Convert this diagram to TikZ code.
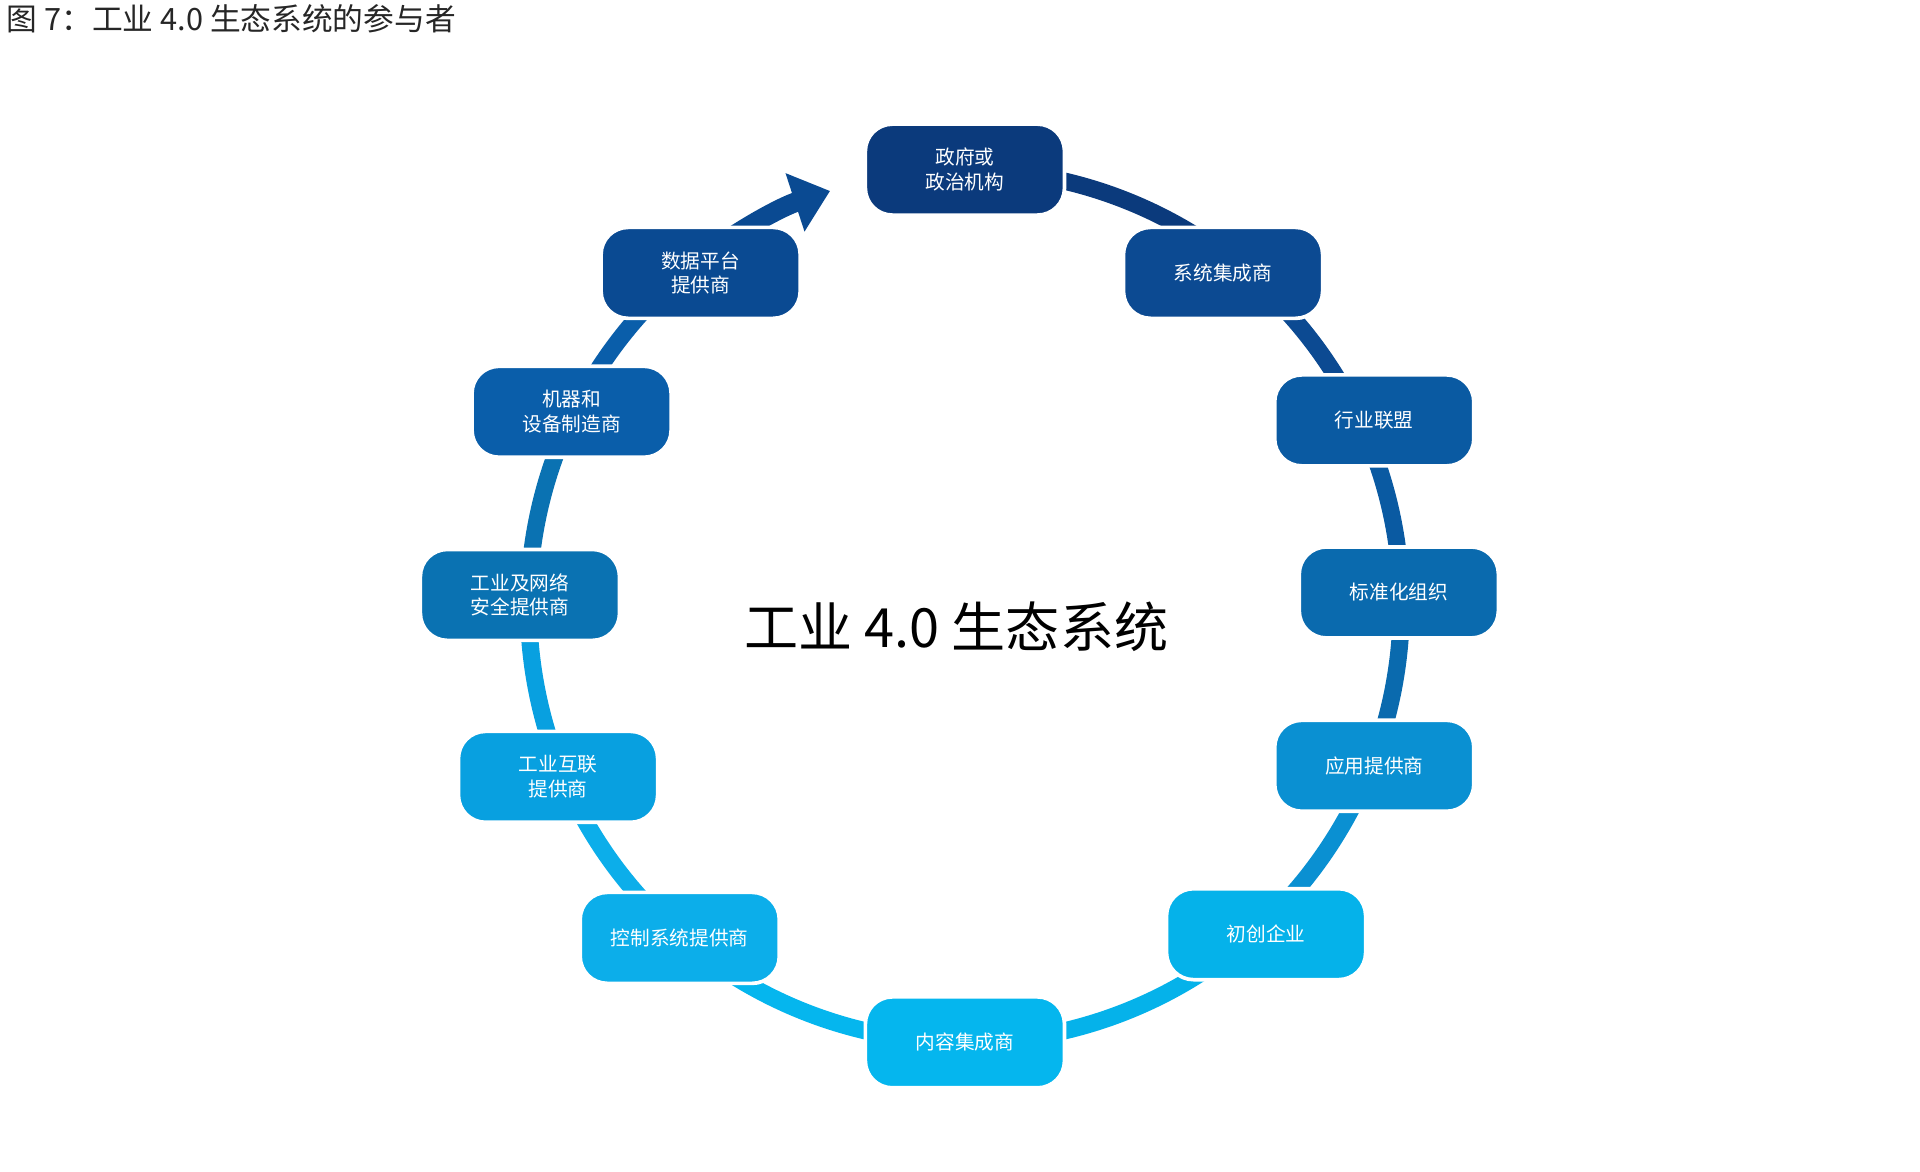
\documentclass[tikz,border=0pt]{standalone}
\usepackage{fontspec}
\setmainfont{Noto Sans CJK SC}
\usetikzlibrary{arrows.meta}
\definecolor{cA}{HTML}{0B3A7C}
\definecolor{cB}{HTML}{0C4A92}
\definecolor{cC}{HTML}{0A5AA2}
\definecolor{cD}{HTML}{0A6AAE}
\definecolor{cE}{HTML}{0A90D2}
\definecolor{cF}{HTML}{05B2EA}
\definecolor{cG}{HTML}{05B6EE}
\definecolor{cH}{HTML}{0CAEEA}
\definecolor{cI}{HTML}{08A0E0}
\definecolor{cJ}{HTML}{0A72B2}
\definecolor{cK}{HTML}{0A5EAA}
\definecolor{cL}{HTML}{0A4A92}
\begin{document}
\begin{tikzpicture}[x=1pt,y=1pt,
  actor/.style={draw=white,line width=3pt,rounded corners=22pt,minimum width=162pt,
    minimum height=74pt,align=center,text=white,font=\fontsize{16}{20}\selectfont},
  ring/.style={line width=14pt}]
  \useasboundingbox (0,-8) rectangle (1562,945);
  \fill[white] (0,-8) rectangle (1562,945);
  \node[anchor=north west,font=\fontsize{25}{28}\selectfont,text=black!85] (title) at (2,945) {图 7：工业 4.0 生态系统的参与者};
  \coordinate (c) at (785,452);
  % ring segments
  \foreach \a/\b/\col in {90/52/cA,52/24/cB,24/2/cC,2/-21/cD,-21/-47/cE,-47/-90/cF,
      -90/-131/cG,-131/-157/cH,-157/-181/cI,-181/-206/cJ,-206/-232/cK}
    \draw[ring,\col] ([shift={(c)}]\a:355) arc[start angle=\a,end angle=\b,radius=355];
  \draw[ring,line width=16pt,cL,-{Triangle[length=30pt,width=48pt]}] ([shift={(c)}]128:355) arc[start angle=128,end angle=108,radius=355];
  \node[font=\fontsize{44}{50}\selectfont] (eco) at (778,435) {工业 4.0 生态系统};
  \node[actor,fill=cA] (gov) at (785,807) {政府或\\政治机构};
  \node[actor,fill=cB] (si) at (995,723) {系统集成商};
  \node[actor,fill=cC] (ia) at (1118,603) {行业联盟};
  \node[actor,fill=cD] (so) at (1138,463) {标准化组织};
  \node[actor,fill=cE] (ap) at (1118,322) {应用提供商};
  \node[actor,fill=cF] (st) at (1030,185) {初创企业};
  \node[actor,fill=cG] (ci) at (785,97) {内容集成商};
  \node[actor,fill=cH] (cs) at (553,182) {控制系统提供商};
  \node[actor,fill=cI] (ii) at (454,313) {工业互联\\提供商};
  \node[actor,fill=cJ] (sec) at (423,461) {工业及网络\\安全提供商};
  \node[actor,fill=cK] (mm) at (465,610) {机器和\\设备制造商};
  \node[actor,fill=cL] (dp) at (570,723) {数据平台\\提供商};
\end{tikzpicture}
\end{document}
